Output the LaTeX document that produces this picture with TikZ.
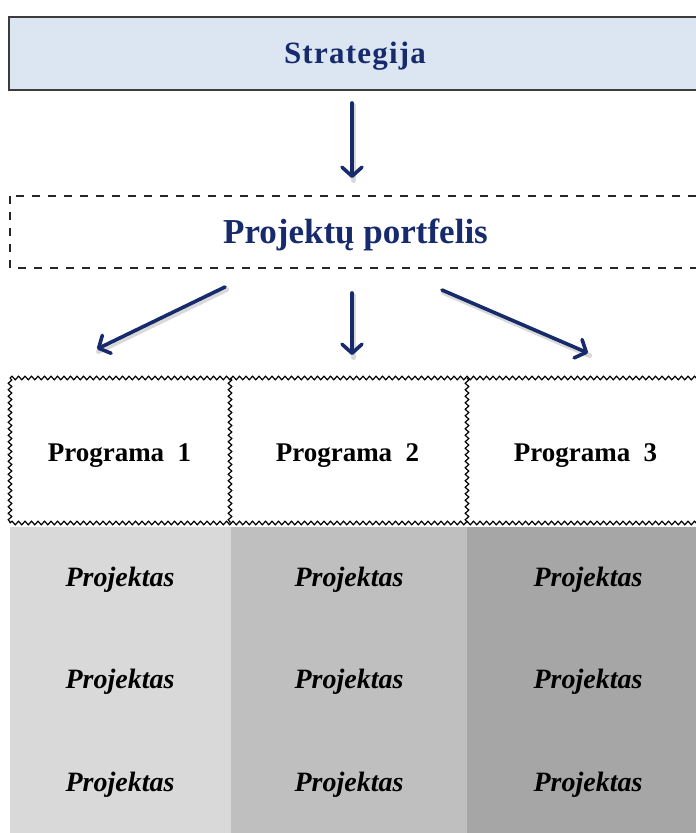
\documentclass[tikz,border=0pt]{standalone}
\usepackage{fontspec}
\setmainfont{Liberation Serif}
\newfontfamily\headfont[LetterSpace=4]{Liberation Serif}
\usetikzlibrary{arrows.meta,decorations.pathmorphing}
\definecolor{navy}{RGB}{22,42,108}
\definecolor{boxblue}{RGB}{220,230,242}
\definecolor{frame}{RGB}{60,60,60}
\definecolor{colA}{RGB}{217,217,217}
\definecolor{colB}{RGB}{191,191,191}
\definecolor{colC}{RGB}{166,166,166}
\tikzset{
  headtext/.style={anchor=base, inner sep=0pt, text=navy, font=\bfseries\fontsize{35}{40}\selectfont},
  progtext/.style={anchor=base, inner sep=0pt, text=black, font=\bfseries\fontsize{27}{32}\selectfont},
  projtext/.style={anchor=base, inner sep=0pt, text=black, font=\bfseries\itshape\fontsize{28}{32}\selectfont},
  wavy/.style={draw=black, line width=1.2pt, decorate,
    decoration={snake, segment length=6.5pt, amplitude=1.8pt}},
  flow/.style={draw=navy, line width=3.6pt, line cap=round,
    -{Straight Barb[length=9pt,width=20pt,round]}},
  flowshadow/.style={draw=black!15, line width=5pt, line cap=round},
}
\begin{document}
\begin{tikzpicture}[x=1pt,y=-1pt]
\useasboundingbox (0,0) rectangle (696,833);
\begin{scope}
\clip (0,0) rectangle (696,833);

% strategy box
\draw[draw=frame, fill=boxblue, line width=2pt] (9,17) rectangle (705,90);
\node[headtext, font=\headfont\bfseries\fontsize{31}{36}\selectfont] (strat) at (355,63) {Strategija};

% portfolio box
\draw[black!85, line width=1.8pt, dash pattern=on 8pt off 8pt] (10,196) rectangle (705,268);
\node[headtext] (portf) at (355.5,243) {Projektų portfelis};

% arrow end points
\coordinate (a0s) at (352,103);  \coordinate (a0e) at (352,178);
\coordinate (a1s) at (225,287);  \coordinate (a1e) at (97,349);
\coordinate (a2s) at (352,293);  \coordinate (a2e) at (352,355);
\coordinate (a3s) at (442,290);  \coordinate (a3e) at (588,353);

\foreach \s/\e in {a0s/a0e,a1s/a1e,a2s/a2e,a3s/a3e}{
  \draw[flowshadow] ([shift={(1.5,2.5)}]\s) -- ([shift={(1.5,2.5)}]\e);
  \draw[flow] (\s) -- (\e);
}

% project columns
\fill[colA] (10,527) rectangle (231,840);
\fill[colB] (231,527) rectangle (467,840);
\fill[colC] (467,527) rectangle (705,840);

% programme grid with wavy borders
\draw[wavy] (10,378) -- (705,378);
\draw[wavy] (10,523) -- (705,523);
\draw[wavy] (10,378) -- (10,523);
\draw[wavy] (230,378) -- (230,523);
\draw[wavy] (467,378) -- (467,523);

\node[progtext] (p1) at (119.5,461) {Programa\ \ 1};
\node[progtext] (p2) at (347.5,461) {Programa\ \ 2};
\node[progtext] (p3) at (585.5,461) {Programa\ \ 3};

\foreach \x/\c in {120/1,349/2,588/3}{
  \node[projtext] (pr\c a) at (\x,586) {Projektas};
  \node[projtext] (pr\c b) at (\x,688) {Projektas};
  \node[projtext] (pr\c c) at (\x,791) {Projektas};
}
\end{scope}
\end{tikzpicture}
\end{document}
